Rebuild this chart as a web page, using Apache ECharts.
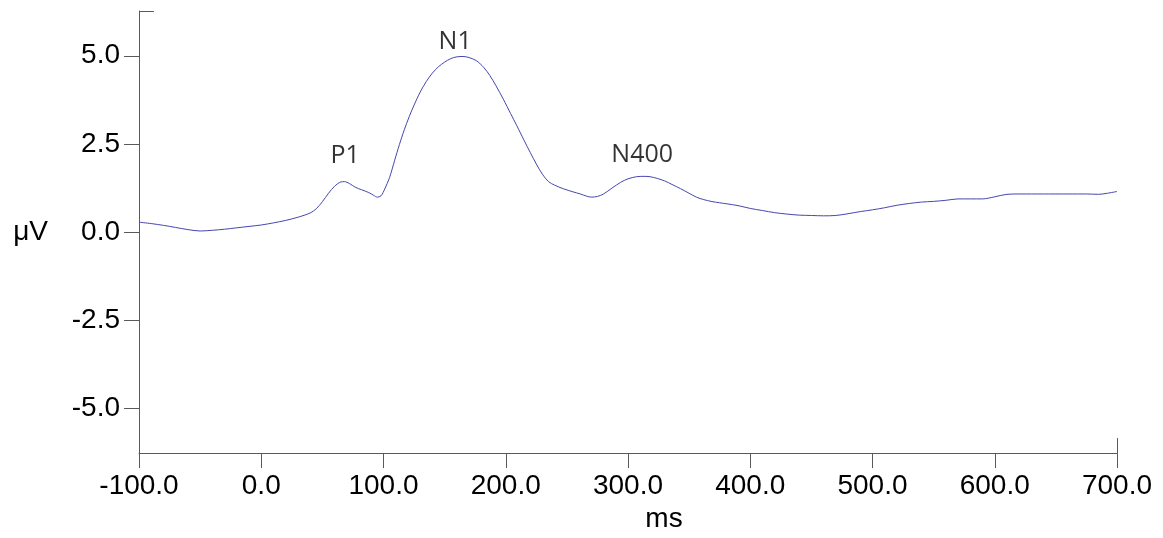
<!DOCTYPE html>
<html>
<head>
<meta charset="utf-8">
<script src="https://cdn.jsdelivr.net/npm/echarts@6/dist/echarts.min.js"></script>
<style>html,body{margin:0;padding:0;background:#fff}#c{width:1163px;height:538px}</style>
</head>
<body>
<div id="c"></div>
<script>
// time (ms)
var timeMs = [-100,-90,-80,-70,-60,-50,-40,-30,-20,-10,0,10,20,30,40,45,50,55,60,65,68,72,77,82,88,92,95,98,101,105,109,113,117,121,125,130,135,140,145,150,155,160,165,170,176,182,187,192,198,204,209,215,220,225,230,235,240,247,255,261,266,270,275,280,287,294,300,307,313,318,324,330,336,343,350,356,362,368,375,381,390,400,410,420,430,440,450,460,470,480,490,500,510,520,530,540,550,560,570,580,590,600,610,620,640,660,675,685,692,700];
// amplitude (µV)
var amplitude = [0.28,0.24,0.19,0.13,0.07,0.03,0.05,0.08,0.12,0.16,0.20,0.26,0.33,0.42,0.54,0.66,0.86,1.10,1.30,1.42,1.43,1.38,1.27,1.20,1.12,1.04,0.99,1.03,1.22,1.55,2.02,2.48,2.90,3.27,3.60,3.97,4.27,4.51,4.69,4.82,4.92,4.97,4.98,4.95,4.86,4.67,4.44,4.15,3.77,3.36,3.02,2.60,2.26,1.93,1.64,1.43,1.33,1.23,1.14,1.08,1.02,0.99,1.01,1.08,1.25,1.41,1.51,1.57,1.58,1.57,1.52,1.45,1.35,1.23,1.10,0.99,0.92,0.87,0.83,0.80,0.75,0.67,0.61,0.55,0.51,0.48,0.47,0.46,0.47,0.52,0.58,0.63,0.69,0.76,0.81,0.85,0.87,0.90,0.94,0.94,0.94,1.00,1.07,1.08,1.08,1.08,1.08,1.07,1.10,1.15];
// y tick values
var yTicks = [-5, -2.5, 0, 2.5, 5];
// component annotations
var annLabels = ['P1', 'N1', 'N400'];
var annX = [68.6, 158.6, 311.6];
var annY = [2.15, 5.39, 2.19];

var X_MIN = -100, X_MAX = 700, Y_MIN = -6.27, Y_MAX = 6.27;
var axisColor = '#5a5a5a';
var labelFont = {fontFamily: '"Liberation Sans", Arial, sans-serif', fontSize: 28, color: '#000'};

var chart = echarts.init(document.getElementById('c'), null, {renderer: 'canvas'});
var lineData = timeMs.map(function (t, i) { return [t, amplitude[i]]; });
var annData = annLabels.map(function (l, i) { return {value: [annX[i], annY[i]], name: l}; });

chart.setOption({
  animation: false,
  backgroundColor: '#fff',
  grid: {left: 139, right: 46, top: 11, bottom: 83, containLabel: false},
  xAxis: [{
    type: 'value', min: X_MIN, max: X_MAX, interval: 100, position: 'bottom',
    name: 'ms', nameLocation: 'middle', nameGap: 50,
    nameTextStyle: Object.assign({}, labelFont, {padding: [0, 0, 0, 72]}),
    axisLine: {show: true, onZero: false, lineStyle: {color: axisColor, width: 1}},
    axisTick: {show: true, inside: false, length: 15, lineStyle: {color: axisColor}},
    axisLabel: Object.assign({}, labelFont, {margin: 19, formatter: function (v) { return v.toFixed(1); }}),
    splitLine: {show: false}
  }, {
    type: 'value', min: X_MIN, max: X_MAX, position: 'bottom',
    axisLine: {show: false, onZero: false},
    axisTick: {show: true, inside: true, length: 15, customValues: [X_MAX], lineStyle: {color: axisColor}},
    axisLabel: {show: false},
    splitLine: {show: false}
  }],
  yAxis: [{
    type: 'value', min: Y_MIN, max: Y_MAX, position: 'left',
    name: 'μV', nameLocation: 'middle', nameGap: 91, nameRotate: 0,
    nameTextStyle: Object.assign({}, labelFont, {align: 'right', verticalAlign: 'middle'}),
    axisLine: {show: true, onZero: false, lineStyle: {color: axisColor, width: 1}},
    axisTick: {show: true, inside: false, length: 15, customValues: yTicks, lineStyle: {color: axisColor}},
    axisLabel: Object.assign({}, labelFont, {margin: 19, customValues: yTicks, formatter: function (v) { return v.toFixed(1); }}),
    splitLine: {show: false}
  }, {
    type: 'value', min: Y_MIN, max: Y_MAX, position: 'left',
    axisLine: {show: false, onZero: false},
    axisTick: {show: true, inside: true, length: 15, customValues: [Y_MAX], lineStyle: {color: axisColor}},
    axisLabel: {show: false},
    splitLine: {show: false}
  }],
  series: [{
    type: 'line', data: lineData, smooth: 0.3, showSymbol: false, symbol: 'none',
    lineStyle: {color: '#4646b0', width: 1}, xAxisIndex: 0, yAxisIndex: 0
  }, {
    type: 'scatter', data: annData, symbolSize: 1, xAxisIndex: 0, yAxisIndex: 0,
    itemStyle: {color: 'rgba(0,0,0,0)'},
    label: {show: true, position: 'inside', formatter: '{b}', fontFamily: '"Open Sans", sans-serif', fontSize: 25, color: '#000', textBorderWidth: 0},
    emphasis: {disabled: true}
  }]
});
</script>
</body>
</html>
